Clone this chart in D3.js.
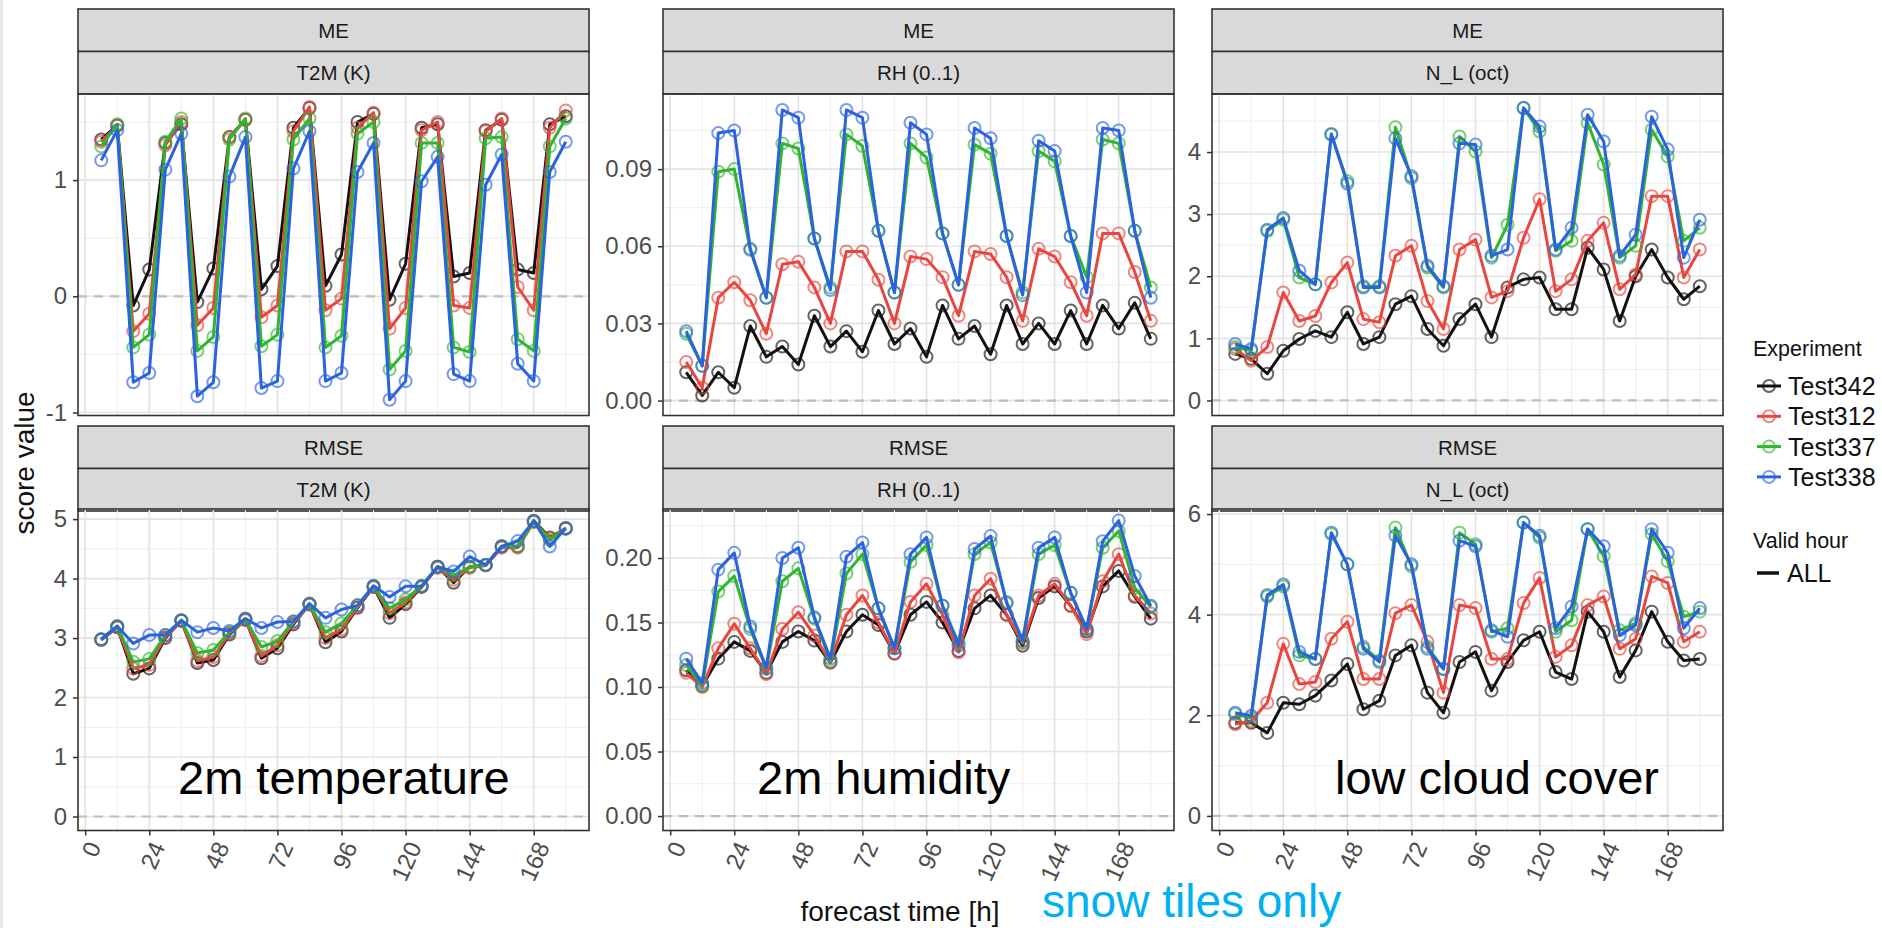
<!DOCTYPE html>
<html>
<head>
<meta charset="utf-8">
<script src="https://cdn.jsdelivr.net/npm/d3@7"></script>
<style>
  body { margin: 0; background: #fff; }
  text { font-family: "Liberation Sans", Arial, sans-serif; }
</style>
</head>
<body>
<div id="chart"></div>
<script>
// forecast lead times (h) and experiments
var hours = [6,12,18,24,30,36,42,48,54,60,66,72,78,84,90,96,102,108,114,120,126,132,138,144,150,156,162,168,174,180];
var xTicks = [0,24,48,72,96,120,144,168];
var experiments = ["Test342", "Test312", "Test337", "Test338"];
var expColors = ["#111111", "#e8473f", "#2fb52f", "#2b62e0"];
var scores = ["ME", "RMSE"];
var variables = ["T2M (K)", "RH (0..1)", "N_L (oct)"];

// ME, order of series = experiments
var meT2M = [
  [1.35,1.47,-0.08,0.23,1.32,1.48,-0.05,0.24,1.37,1.52,0.06,0.26,1.45,1.62,0.09,0.36,1.5,1.57,-0.03,0.28,1.45,1.48,0.17,0.2,1.43,1.52,0.23,0.2,1.48,1.55],
  [1.33,1.47,-0.3,-0.15,1.3,1.5,-0.25,-0.1,1.37,1.52,-0.18,-0.08,1.42,1.63,-0.12,-0.02,1.45,1.58,-0.28,-0.1,1.43,1.5,-0.08,-0.1,1.42,1.53,0.08,-0.12,1.45,1.6],
  [1.29,1.48,-0.44,-0.33,1.33,1.53,-0.47,-0.35,1.35,1.53,-0.43,-0.33,1.35,1.53,-0.44,-0.34,1.4,1.5,-0.63,-0.47,1.32,1.32,-0.44,-0.48,1.36,1.37,-0.37,-0.47,1.29,1.53],
  [1.17,1.43,-0.74,-0.66,1.09,1.4,-0.86,-0.74,1.03,1.37,-0.79,-0.73,1.1,1.42,-0.73,-0.66,1.07,1.32,-0.89,-0.73,0.99,1.2,-0.67,-0.73,0.96,1.22,-0.58,-0.73,1.07,1.33]
];
var meRH = [
  [0.011,0.002,0.011,0.005,0.029,0.017,0.021,0.014,0.033,0.021,0.027,0.019,0.035,0.022,0.028,0.017,0.037,0.024,0.029,0.018,0.037,0.022,0.030,0.022,0.035,0.022,0.037,0.028,0.038,0.024],
  [0.015,0.005,0.040,0.046,0.039,0.026,0.053,0.054,0.044,0.030,0.058,0.058,0.047,0.030,0.056,0.055,0.048,0.033,0.058,0.057,0.048,0.031,0.059,0.056,0.046,0.033,0.065,0.065,0.050,0.031],
  [0.026,0.0135,0.089,0.090,0.0585,0.040,0.100,0.098,0.063,0.044,0.1035,0.099,0.066,0.042,0.100,0.0945,0.065,0.045,0.0995,0.096,0.064,0.042,0.097,0.093,0.064,0.048,0.1015,0.100,0.066,0.044],
  [0.027,0.0135,0.104,0.105,0.059,0.040,0.113,0.110,0.063,0.043,0.113,0.110,0.066,0.042,0.108,0.1035,0.065,0.045,0.106,0.102,0.064,0.041,0.101,0.097,0.064,0.042,0.106,0.105,0.066,0.040]
];
var meNL = [
  [0.75,0.67,0.43,0.8,0.99,1.12,1.02,1.42,0.91,1.02,1.55,1.68,1.15,0.88,1.31,1.55,1.02,1.82,1.95,1.98,1.47,1.47,2.46,2.11,1.28,2.0,2.43,1.98,1.63,1.84],
  [0.83,0.64,0.86,1.74,1.28,1.36,1.9,2.22,1.31,1.26,2.33,2.49,1.6,1.15,2.43,2.59,1.66,1.76,2.62,3.24,1.76,1.95,2.57,2.86,1.79,2.03,3.29,3.29,1.98,2.43],
  [0.86,0.8,2.73,2.91,1.98,1.87,4.28,3.53,1.84,1.84,4.4,3.58,2.14,1.82,4.25,4.01,2.3,2.83,4.71,4.33,2.41,2.57,4.47,3.8,2.3,2.49,4.36,3.93,2.57,2.78],
  [0.91,0.83,2.75,2.94,2.09,1.87,4.29,3.49,1.82,1.82,4.22,3.61,2.17,1.84,4.14,4.12,2.33,2.43,4.71,4.41,2.43,2.78,4.6,4.17,2.33,2.67,4.57,4.04,2.3,2.91]
];

// RMSE
var rmseT2M = [
  [2.97,3.18,2.4,2.49,3.0,3.29,2.58,2.63,3.06,3.31,2.66,2.83,3.23,3.57,2.93,3.11,3.51,3.86,3.34,3.57,3.86,4.2,3.93,4.2,4.23,4.54,4.54,4.97,4.69,4.84],
  [2.97,3.18,2.49,2.55,3.02,3.29,2.62,2.68,3.08,3.3,2.7,2.88,3.25,3.56,3.0,3.15,3.52,3.86,3.42,3.6,3.87,4.18,3.98,4.18,4.22,4.52,4.52,4.95,4.68,4.85],
  [2.98,3.2,2.6,2.65,3.05,3.3,2.75,2.8,3.1,3.32,2.85,2.95,3.28,3.57,3.1,3.25,3.55,3.87,3.5,3.65,3.88,4.2,4.05,4.2,4.23,4.55,4.55,4.96,4.65,4.84],
  [2.98,3.2,2.91,3.05,3.05,3.3,3.1,3.17,3.12,3.33,3.17,3.27,3.28,3.58,3.34,3.48,3.55,3.88,3.69,3.87,3.87,4.2,4.12,4.37,4.23,4.54,4.63,4.97,4.54,4.85]
];
var rmseRH = [
  [0.113,0.101,0.122,0.135,0.128,0.111,0.135,0.143,0.136,0.119,0.143,0.156,0.148,0.126,0.156,0.166,0.150,0.128,0.161,0.171,0.156,0.132,0.169,0.178,0.163,0.143,0.178,0.19,0.170,0.153],
  [0.111,0.100,0.13,0.149,0.13,0.11,0.145,0.158,0.14,0.119,0.156,0.171,0.15,0.126,0.166,0.18,0.156,0.127,0.171,0.184,0.156,0.134,0.171,0.18,0.163,0.141,0.182,0.203,0.171,0.157],
  [0.117,0.101,0.174,0.186,0.145,0.114,0.182,0.192,0.153,0.12,0.188,0.203,0.161,0.13,0.197,0.21,0.163,0.134,0.203,0.212,0.166,0.135,0.203,0.21,0.173,0.145,0.208,0.221,0.177,0.162],
  [0.122,0.103,0.191,0.204,0.147,0.115,0.2,0.208,0.154,0.122,0.201,0.212,0.161,0.13,0.203,0.216,0.163,0.132,0.207,0.217,0.165,0.136,0.208,0.216,0.173,0.145,0.213,0.229,0.186,0.163]
];
var rmseNL = [
  [1.85,1.85,1.65,2.25,2.22,2.39,2.69,3.02,2.12,2.29,3.19,3.39,2.45,2.05,3.06,3.26,2.49,3.06,3.49,3.66,2.86,2.72,4.06,3.66,2.76,3.29,4.06,3.46,3.09,3.12],
  [1.82,1.89,2.25,3.42,2.62,2.66,3.52,3.86,2.72,2.72,4.03,4.19,3.46,2.45,4.19,4.13,3.12,3.12,4.23,4.73,3.16,3.39,4.19,4.36,3.32,3.52,4.76,4.63,3.46,3.66],
  [2.02,1.95,4.36,4.56,3.19,3.12,5.6,5.0,3.36,3.09,5.73,4.96,3.36,2.92,5.63,5.4,3.66,3.73,5.83,5.53,3.66,3.89,5.7,5.16,3.69,3.83,5.6,5.06,3.96,4.06],
  [2.05,1.99,4.39,4.6,3.26,3.12,5.63,5.0,3.32,3.06,5.57,5.0,3.32,2.92,5.47,5.36,3.69,3.56,5.83,5.57,3.73,4.16,5.7,5.36,3.59,3.79,5.7,5.23,3.73,4.13]
];

// y tick labels of each panel
var meT2MTicks = [-1, 0, 1];
var meRHTicks = [0, 0.03, 0.06, 0.09];
var meNLTicks = [0, 1, 2, 3, 4];
var rmseT2MTicks = [0, 1, 2, 3, 4, 5];
var rmseRHTicks = [0, 0.05, 0.10, 0.15, 0.20];
var rmseNLTicks = [0, 2, 4, 6];

var W = 1882, H = 928;
var panelLefts = [78, 663, 1212], panelW = 511;
var rowTops = [94, 509], panelH = 321.5;
var stripTops = [9, 426], stripH = 42.5;

var fmtInt = function(d) { return String(d); };
var fmt2 = d3.format(".2f");

var panels = [
  {row: 0, col: 0, values: meT2M,   ticks: meT2MTicks,   dom: [-1.026, 1.741], fmt: fmtInt},
  {row: 0, col: 1, values: meRH,    ticks: meRHTicks,    dom: [-0.0058, 0.1192], fmt: fmt2},
  {row: 0, col: 2, values: meNL,    ticks: meNLTicks,    dom: [-0.242, 4.935], fmt: fmtInt},
  {row: 1, col: 0, values: rmseT2M, ticks: rmseT2MTicks, dom: [-0.235, 5.17], fmt: fmtInt},
  {row: 1, col: 1, values: rmseRH,  ticks: rmseRHTicks,  dom: [-0.0112, 0.238], fmt: fmt2},
  {row: 1, col: 2, values: rmseNL,  ticks: rmseNLTicks,  dom: [-0.29, 6.1], fmt: fmtInt}
];

var svg = d3.select("#chart").append("svg")
    .attr("width", W)
    .attr("height", H);

svg.append("rect").attr("width", W).attr("height", H).attr("fill", "#fff");
svg.append("rect").attr("width", 3).attr("height", H).attr("fill", "#e6e6e6");

var x = d3.scaleLinear().domain([-2.7, 188.7]).range([0, panelW]);

panels.forEach(function(p) {
  var left = panelLefts[p.col], top = rowTops[p.row];
  var y = d3.scaleLinear().domain(p.dom).range([panelH, 0]);

  // strips
  var st = svg.append("g").attr("transform", "translate(" + left + "," + stripTops[p.row] + ")");
  [scores[p.row], variables[p.col]].forEach(function(label, i) {
    st.append("rect")
        .attr("x", 0).attr("y", i * stripH)
        .attr("width", panelW).attr("height", stripH)
        .attr("fill", "#d9d9d9").attr("stroke", "#333").attr("stroke-width", 1.6);
    st.append("text")
        .attr("x", panelW / 2).attr("y", i * stripH + stripH / 2)
        .attr("dy", "0.36em")
        .attr("text-anchor", "middle")
        .attr("font-size", 20.5)
        .attr("fill", "#1a1a1a")
        .text(label);
  });

  var g = svg.append("g").attr("transform", "translate(" + left + "," + top + ")");

  // minor grid
  var xMinor = xTicks.map(function(t) { return t + 12; }).filter(function(t) { return t < x.domain()[1]; });
  var step = p.ticks[1] - p.ticks[0];
  var yMinor = p.ticks.map(function(t) { return t + step / 2; })
      .concat([p.ticks[0] - step / 2])
      .filter(function(v) { return v > p.dom[0] && v < p.dom[1]; });

  g.selectAll(".xminor").data(xMinor).enter().append("line")
      .attr("x1", function(d) { return x(d); }).attr("x2", function(d) { return x(d); })
      .attr("y1", 0).attr("y2", panelH)
      .attr("stroke", "#eeeeee").attr("stroke-width", 1);
  g.selectAll(".yminor").data(yMinor).enter().append("line")
      .attr("x1", 0).attr("x2", panelW)
      .attr("y1", function(d) { return y(d); }).attr("y2", function(d) { return y(d); })
      .attr("stroke", "#eeeeee").attr("stroke-width", 1);
  // major grid
  g.selectAll(".xmajor").data(xTicks).enter().append("line")
      .attr("x1", function(d) { return x(d); }).attr("x2", function(d) { return x(d); })
      .attr("y1", 0).attr("y2", panelH)
      .attr("stroke", "#e3e3e3").attr("stroke-width", 1.6);
  g.selectAll(".ymajor").data(p.ticks).enter().append("line")
      .attr("x1", 0).attr("x2", panelW)
      .attr("y1", function(d) { return y(d); }).attr("y2", function(d) { return y(d); })
      .attr("stroke", "#e3e3e3").attr("stroke-width", 1.6);

  // zero reference
  g.append("line")
      .attr("x1", 0).attr("x2", panelW)
      .attr("y1", y(0)).attr("y2", y(0))
      .attr("stroke", "#bdbdbd").attr("stroke-width", 2.2)
      .attr("stroke-dasharray", "9,7");

  var line = d3.line()
      .x(function(d) { return x(d[0]); })
      .y(function(d) { return y(d[1]); });

  p.values.forEach(function(series, i) {
    var pts = d3.zip(hours, series);
    g.append("path")
        .datum(pts)
        .attr("fill", "none")
        .attr("stroke", expColors[i])
        .attr("stroke-width", 3)
        .attr("stroke-linejoin", "round")
        .attr("d", line);
    g.selectAll(null).data(pts).enter().append("circle")
        .attr("cx", function(d) { return x(d[0]); })
        .attr("cy", function(d) { return y(d[1]); })
        .attr("r", 6)
        .attr("fill", "none")
        .attr("stroke", expColors[i])
        .attr("stroke-opacity", 0.65)
        .attr("stroke-width", 2);
  });

  g.append("rect")
      .attr("width", panelW).attr("height", panelH)
      .attr("fill", "none").attr("stroke", "#333").attr("stroke-width", 1.6);

  var yAxis = d3.axisLeft(y).tickValues(p.ticks).tickFormat(p.fmt).tickSize(5).tickPadding(6);
  var ya = g.append("g").call(yAxis);
  ya.select(".domain").remove();
  ya.selectAll(".tick line").attr("stroke", "#333").attr("stroke-width", 1.5);
  ya.selectAll(".tick text")
      .attr("font-size", 24)
      .attr("font-family", "Liberation Sans, Arial, sans-serif")
      .attr("fill", "#4d4d4d");

  if (p.row === 1) {
    var xAxis = d3.axisBottom(x).tickValues(xTicks).tickSize(5);
    var xa = g.append("g").attr("transform", "translate(0," + panelH + ")").call(xAxis);
    xa.select(".domain").remove();
    xa.selectAll(".tick line").attr("stroke", "#333").attr("stroke-width", 1.5);
    xa.selectAll(".tick text")
        .attr("font-size", 24)
        .attr("font-family", "Liberation Sans, Arial, sans-serif")
        .attr("fill", "#4d4d4d")
        .attr("text-anchor", "end")
        .attr("x", null).attr("y", null).attr("dy", null)
        .attr("transform", "translate(16,16) rotate(-66)");
  }
});

// axis titles
svg.append("text")
    .attr("transform", "translate(34,463) rotate(-90)")
    .attr("text-anchor", "middle")
    .attr("font-size", 28)
    .attr("fill", "#111")
    .text("score value");
svg.append("text")
    .attr("x", 900).attr("y", 921)
    .attr("text-anchor", "middle")
    .attr("font-size", 28)
    .attr("fill", "#111")
    .text("forecast time [h]");

// legend
var lg = svg.append("g").attr("transform", "translate(1753,0)");
lg.append("text").attr("x", 0).attr("y", 356).attr("font-size", 21.5).attr("fill", "#111").text("Experiment");
experiments.forEach(function(name, i) {
  var cy = 386 + i * 30.3;
  lg.append("line").attr("x1", 4).attr("x2", 28).attr("y1", cy).attr("y2", cy)
      .attr("stroke", expColors[i]).attr("stroke-width", 3);
  lg.append("circle").attr("cx", 16).attr("cy", cy).attr("r", 6)
      .attr("fill", "none").attr("stroke", expColors[i]).attr("stroke-opacity", 0.65).attr("stroke-width", 2);
  lg.append("text").attr("x", 35).attr("y", cy + 9).attr("font-size", 25).attr("fill", "#111").text(name);
});
lg.append("text").attr("x", 0).attr("y", 548).attr("font-size", 21.5).attr("fill", "#111").text("Valid hour");
lg.append("line").attr("x1", 4).attr("x2", 26).attr("y1", 573).attr("y2", 573)
    .attr("stroke", "#111").attr("stroke-width", 3.5);
lg.append("text").attr("x", 34).attr("y", 582).attr("font-size", 25).attr("fill", "#111").text("ALL");

// annotations
var notes = [
  {label: "2m temperature", x: 178},
  {label: "2m humidity", x: 757},
  {label: "low cloud cover", x: 1335}
];
svg.selectAll(".note").data(notes).enter().append("text")
    .attr("x", function(d) { return d.x; })
    .attr("y", 794)
    .attr("font-size", 47)
    .attr("fill", "#000")
    .text(function(d) { return d.label; });

svg.append("text")
    .attr("x", 1042).attr("y", 917)
    .attr("font-size", 46)
    .attr("fill", "#00b0f0")
    .text("snow tiles only");
</script>
</body>
</html>
